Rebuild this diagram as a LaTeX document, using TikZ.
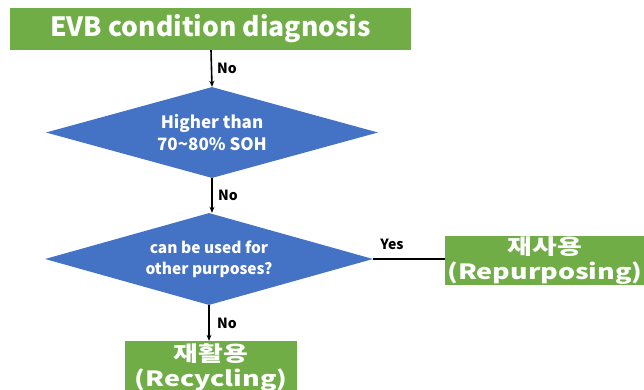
\documentclass[tikz,border=0pt]{standalone}
\usepackage{fontspec}
\setmainfont{Noto Sans CJK KR}
\newfontfamily\widefont{Noto Sans CJK KR}[FakeStretch=1.28]
\usetikzlibrary{shapes.geometric,arrows.meta}
\definecolor{gbox}{HTML}{70AD47}
\definecolor{bdia}{HTML}{4472C4}
\tikzset{
  greenbox/.style={fill=gbox, draw=none, text=white, font=\bfseries, align=center, inner sep=0pt},
  resbox/.style={greenbox, font=\widefont\bfseries\fontsize{21}{25}\selectfont},
  dia/.style={diamond, fill=bdia, draw=none, text=white, align=center, inner sep=0pt, aspect=3.6},
  flow/.style={line width=1.6pt, -{Stealth[length=6pt,width=5pt]}},
  lbl/.style={font=\bfseries\fontsize{14}{16}\selectfont, inner sep=0pt}
}
\begin{document}
\begin{tikzpicture}[x=1pt,y=-1pt]
\useasboundingbox (0,0) rectangle (644,390);
\clip (0,0) rectangle (644,390);
\node[greenbox, minimum width=401pt, minimum height=42pt, font=\bfseries\fontsize{26.5}{28}\selectfont] (top) at (210.5,29) {EVB condition diagnosis};
\node[dia, minimum width=332pt, minimum height=91pt, font=\bfseries\fontsize{17}{22}\selectfont] (d1) at (212,132.5) {Higher than\\70\textasciitilde80\% SOH};
\node[dia, minimum width=328pt, minimum height=92pt, font=\bfseries\fontsize{15.5}{21}\selectfont] (d2) at (209,259) {can be used for\\other purposes?};
\node[resbox, minimum width=200pt, minimum height=49pt] (rep) at (545,260.5) {재사용\\(Repurposing)};
\node[resbox, minimum width=172pt, minimum height=54pt] (rec) at (211,368) {재활용\\(Recycling)};
\draw[flow] (top.south -| 211,0) -- (d1.north);
\node[lbl, anchor=west] (n1) at (217,68) {No};
\draw[flow] (d1.south) -- (d2.north -| d1.south);
\node[lbl, anchor=west] (n2) at (218,195) {No};
\draw[line width=1.6pt] (d2.east) -- (d2.east -| rep.west);
\node[lbl, anchor=center] (y1) at (392,244) {Yes};
\draw[flow] (d2.south) -- (rec.north -| d2.south);
\node[lbl, anchor=west] (n3) at (217,323) {No};
\end{tikzpicture}
\end{document}
